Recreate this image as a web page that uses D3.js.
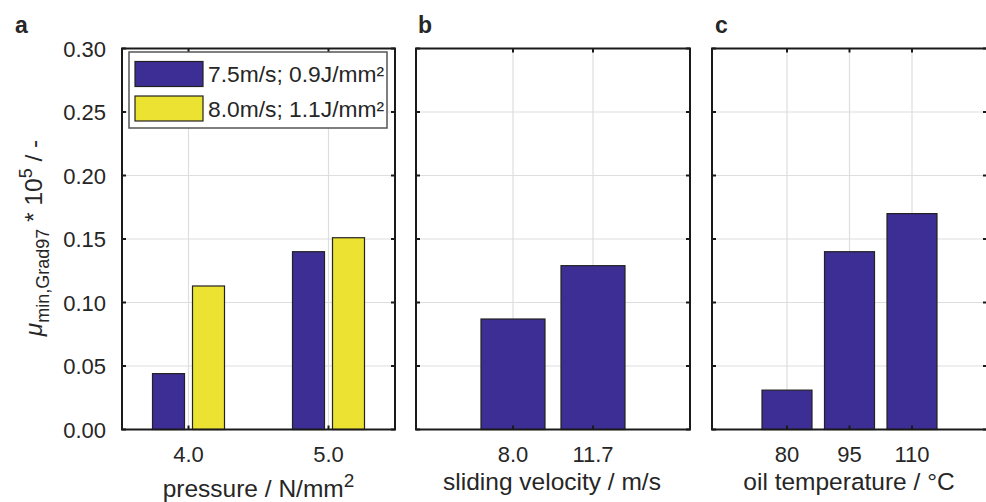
<!DOCTYPE html>
<html><head><meta charset="utf-8">
<script src="https://cdn.jsdelivr.net/npm/d3@7"></script>
<style>
body{margin:0;background:#fff}
svg{display:block}
text{font-family:"Liberation Sans",Arial,Helvetica,sans-serif;fill:#262626}
</style>
</head><body>
<svg id="chart" width="986" height="502"></svg>
<script>
// ---- data ----
const yTicks = [0, 0.05, 0.10, 0.15, 0.20, 0.25, 0.30];
const yTickLabels = ["0.00", "0.05", "0.10", "0.15", "0.20", "0.25", "0.30"];
const seriesNames = ["7.5m/s; 0.9J/mm²", "8.0m/s; 1.1J/mm²"];
const seriesColors = ["#3d2e95", "#ebe232"];
const pressureCats = [4.0, 5.0];
const pressureLabels = ["4.0", "5.0"];
const pressureBlue = [0.044, 0.140];
const pressureYellow = [0.113, 0.151];
const velocityCats = [1, 2];
const velocityLabels = ["8.0", "11.7"];
const velocityValues = [0.087, 0.129];
const tempCats = [1, 2, 3];
const tempLabels = ["80", "95", "110"];
const tempValues = [0.031, 0.140, 0.170];

// ---- layout ----
const svg = d3.select("#chart");
const plotTop = 48.5, plotBottom = 429.5;
const y = d3.scaleLinear().domain([0, 0.30]).range([plotBottom, plotTop]);
const axisColor = "#1a1a1a";
const gridColor = "#dedede";
const edgeColor = "#222";
const tickLen = 4;
const titleSize = 24.5;

function panel(opts) {
  const x = d3.scaleLinear().domain(opts.domain).range([opts.left, opts.right]);
  const g = svg.append("g");
  const grid = g.append("g");
  grid.selectAll("line.gy").data(yTicks).join("line")
    .attr("x1", opts.left).attr("x2", opts.right)
    .attr("y1", d => y(d)).attr("y2", d => y(d))
    .attr("stroke", gridColor).attr("stroke-width", 1.2);
  grid.selectAll("line.gx").data(opts.cats).join("line")
    .attr("x1", d => x(d)).attr("x2", d => x(d))
    .attr("y1", plotTop).attr("y2", plotBottom)
    .attr("stroke", gridColor).attr("stroke-width", 1.2);
  opts.drawBars(g.append("g"), x);
  g.append("rect").attr("x", opts.left).attr("y", plotTop)
    .attr("width", opts.right - opts.left).attr("height", plotBottom - plotTop)
    .attr("fill", "none").attr("stroke", axisColor).attr("stroke-width", 2);
  const t = g.append("g").attr("stroke", axisColor).attr("stroke-width", 2);
  yTicks.forEach(v => {
    t.append("line").attr("x1", opts.left).attr("x2", opts.left + tickLen).attr("y1", y(v)).attr("y2", y(v));
    t.append("line").attr("x1", opts.right).attr("x2", opts.right - tickLen).attr("y1", y(v)).attr("y2", y(v));
  });
  opts.cats.forEach(c => {
    t.append("line").attr("x1", x(c)).attr("x2", x(c)).attr("y1", plotBottom).attr("y2", plotBottom - tickLen);
    t.append("line").attr("x1", x(c)).attr("x2", x(c)).attr("y1", plotTop).attr("y2", plotTop + tickLen);
  });
  g.selectAll("text.xt").data(opts.cats).join("text")
    .attr("x", d => x(d)).attr("y", 462)
    .attr("text-anchor", "middle").attr("font-size", 22)
    .text((d, i) => opts.labels[i]);
  g.append("text").attr("x", opts.letterX).attr("y", 33)
    .attr("font-size", 23).attr("font-weight", "bold").attr("fill", "#111")
    .text(opts.letter);
  return {g, x};
}

// Panel a
panel({
  left: 122, right: 395, domain: [3.525, 5.475], cats: pressureCats, labels: pressureLabels,
  letter: "a", letterX: 15,
  drawBars: (g, x) => {
    const inner = d3.scaleBand().domain([0, 1]).range([-36, 36]).paddingInner(0.2);
    const sets = [pressureBlue, pressureYellow];
    sets.forEach((vals, s) => {
      g.selectAll("rect.s" + s).data(vals).join("rect").attr("class", "s" + s)
        .attr("x", (d, i) => x(pressureCats[i]) + inner(s))
        .attr("width", inner.bandwidth())
        .attr("y", d => y(d)).attr("height", d => y(0) - y(d))
        .attr("fill", seriesColors[s]).attr("stroke", edgeColor).attr("stroke-width", 1.2);
    });
  }
});
svg.append("g").selectAll("text").data(yTicks).join("text")
  .attr("x", 106).attr("y", d => y(d) + 8)
  .attr("text-anchor", "end").attr("font-size", 22)
  .text((d, i) => yTickLabels[i]);

// Panel b
panel({
  left: 416, right: 690, domain: [-0.2125, 3.2125], cats: velocityCats, labels: velocityLabels,
  letter: "b", letterX: 418,
  drawBars: (g, x) => {
    const bw = 0.8;
    g.selectAll("rect").data(velocityValues).join("rect")
      .attr("x", (d, i) => x(velocityCats[i] - bw / 2))
      .attr("width", (d, i) => x(velocityCats[i] + bw / 2) - x(velocityCats[i] - bw / 2))
      .attr("y", d => y(d)).attr("height", d => y(0) - y(d))
      .attr("fill", seriesColors[0]).attr("stroke", edgeColor).attr("stroke-width", 1.2);
  }
});

// Panel c
panel({
  left: 712, right: 987, domain: [-0.2, 4.2], cats: tempCats, labels: tempLabels,
  letter: "c", letterX: 715,
  drawBars: (g, x) => {
    const bw = 0.8;
    g.selectAll("rect").data(tempValues).join("rect")
      .attr("x", (d, i) => x(tempCats[i] - bw / 2))
      .attr("width", (d, i) => x(tempCats[i] + bw / 2) - x(tempCats[i] - bw / 2))
      .attr("y", d => y(d)).attr("height", d => y(0) - y(d))
      .attr("fill", seriesColors[0]).attr("stroke", edgeColor).attr("stroke-width", 1.2);
  }
});

// Axis titles
const ta = svg.append("text").attr("x", 258.5).attr("y", 497).attr("text-anchor", "middle").attr("font-size", titleSize);
ta.append("tspan").text("pressure / N/mm");
ta.append("tspan").attr("font-size", 19).attr("dy", -10).text("2");
svg.append("text").attr("x", 552).attr("y", 490).attr("text-anchor", "middle").attr("font-size", titleSize)
  .text("sliding velocity / m/s");
svg.append("text").attr("x", 849).attr("y", 490).attr("text-anchor", "middle").attr("font-size", titleSize)
  .text("oil temperature / °C");

// Y title
const yt = svg.append("text").attr("transform", "translate(42,238) rotate(-90)")
  .attr("text-anchor", "middle").attr("font-size", titleSize);
yt.append("tspan").attr("font-style", "italic").text("μ");
yt.append("tspan").attr("font-size", 18).attr("dy", 7).text("min,Grad97");
yt.append("tspan").attr("dy", -7).text(" * 10");
yt.append("tspan").attr("font-size", 18).attr("dy", -10).text("5");
yt.append("tspan").attr("dy", 10).text(" / -");

// Legend
const lg = svg.append("g");
lg.append("rect").attr("x", 129).attr("y", 52).attr("width", 258).attr("height", 76)
  .attr("fill", "#fff").attr("stroke", "#555").attr("stroke-width", 1.5);
seriesNames.forEach((name, i) => {
  const cy = 74 + i * 34.5;
  lg.append("rect").attr("x", 135).attr("y", cy - 12.5).attr("width", 68).attr("height", 25)
    .attr("fill", seriesColors[i]).attr("stroke", edgeColor).attr("stroke-width", 1.2);
  lg.append("text").attr("x", 208).attr("y", cy + 8).attr("font-size", 22.8).text(name);
});
</script>
</body></html>
